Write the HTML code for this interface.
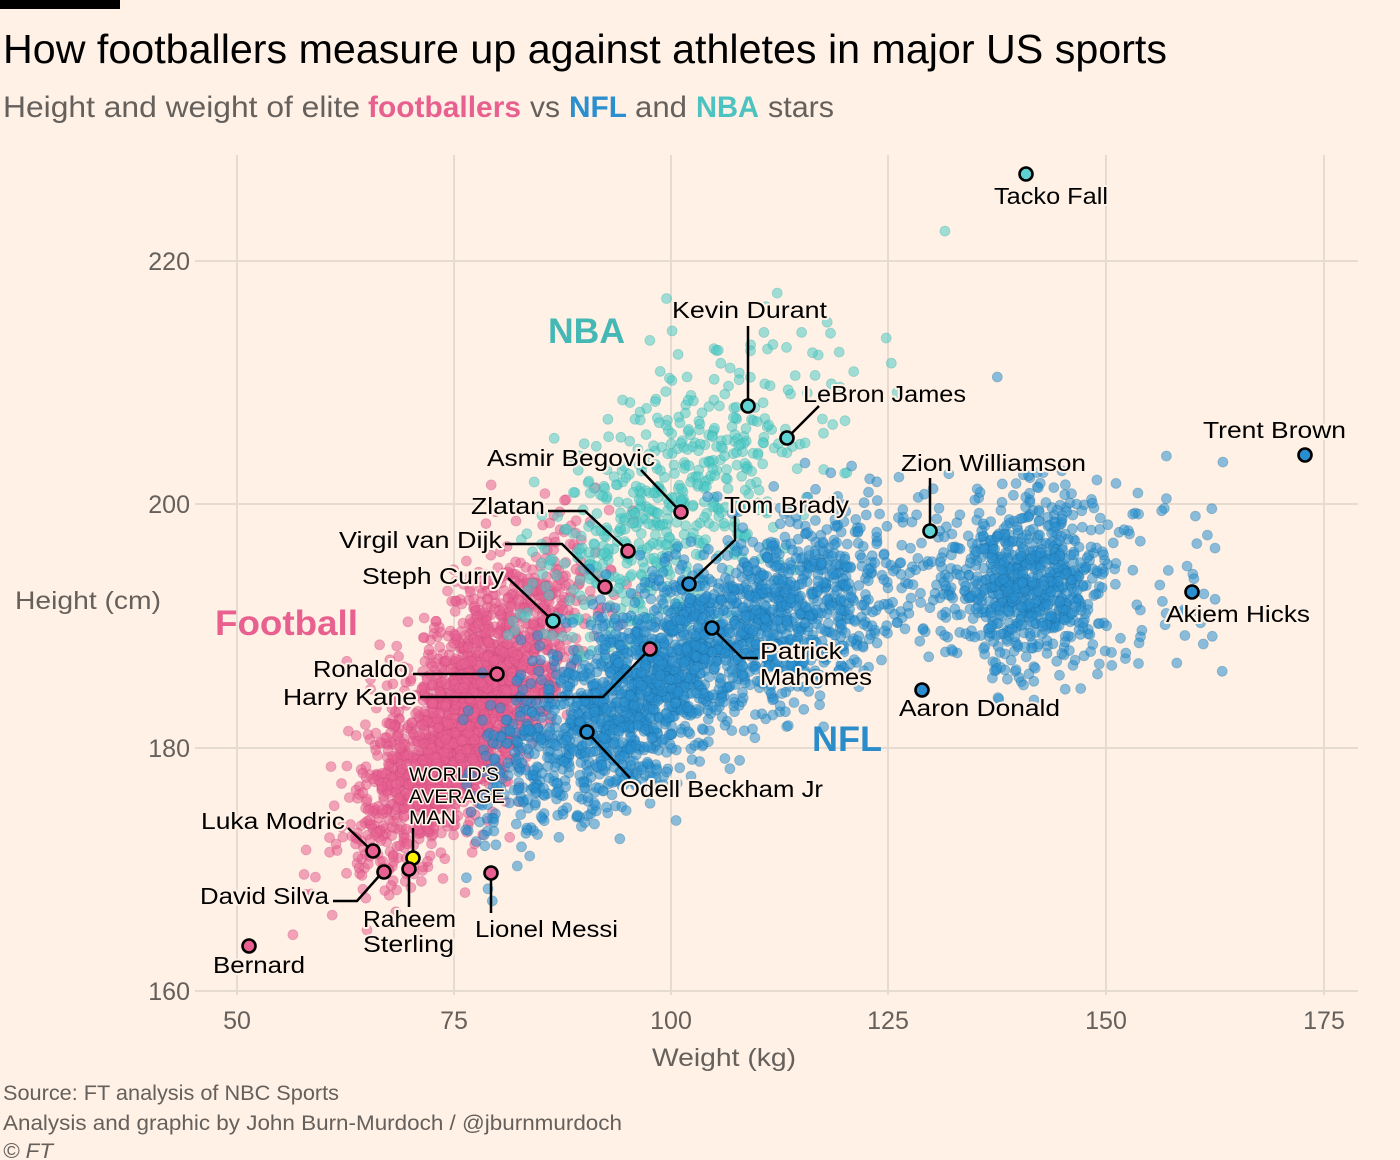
<!DOCTYPE html>
<html><head><meta charset="utf-8">
<style>
html,body{margin:0;padding:0;background:#fff1e5;}
svg{display:block;font-family:"Liberation Sans",sans-serif;}
.lab{font-size:23px;fill:#000;stroke:#fff1e5;stroke-width:4px;paint-order:stroke;stroke-linejoin:round;}
.sm{font-size:19px;fill:#000;stroke:#fff1e5;stroke-width:3px;paint-order:stroke;stroke-linejoin:round;}
.tick{font-size:25px;fill:#66605c;}
.ln{stroke:#000;stroke-width:2.5;fill:none;stroke-linejoin:miter;}
.hd{stroke:#000;stroke-width:2.6;}
.foot{font-size:21px;fill:#66605c;}
</style></head><body>
<svg id="s" width="1400" height="1160" viewBox="0 0 1400 1160" xmlns="http://www.w3.org/2000/svg">
<rect width="1400" height="1160" fill="#fff1e5"/>
<rect x="0" y="0" width="120" height="9" fill="#000"/>
<text x="3" y="63" font-size="41" fill="#000" textLength="1164" lengthAdjust="spacingAndGlyphs">How footballers measure up against athletes in major US sports</text>
<g font-size="30" fill="#66605c">
<text x="3" y="117" textLength="357" lengthAdjust="spacingAndGlyphs">Height and weight of elite</text>
<text x="368" y="117" textLength="153" lengthAdjust="spacingAndGlyphs" font-weight="bold" fill="#e8608f">footballers</text>
<text x="530" y="117" textLength="30" lengthAdjust="spacingAndGlyphs">vs</text>
<text x="569" y="117" textLength="58" lengthAdjust="spacingAndGlyphs" font-weight="bold" fill="#2b8ecf">NFL</text>
<text x="635" y="117" textLength="52" lengthAdjust="spacingAndGlyphs">and</text>
<text x="696" y="117" textLength="63" lengthAdjust="spacingAndGlyphs" font-weight="bold" fill="#4cc3c0">NBA</text>
<text x="768" y="117" textLength="66" lengthAdjust="spacingAndGlyphs">stars</text>
</g>
<!-- grid -->
<g stroke="#e6dbd1" stroke-width="2">
<line x1="237" y1="155" x2="237" y2="995"/>
<line x1="454" y1="155" x2="454" y2="995"/>
<line x1="671" y1="155" x2="671" y2="995"/>
<line x1="888" y1="155" x2="888" y2="995"/>
<line x1="1106" y1="155" x2="1106" y2="995"/>
<line x1="1324" y1="155" x2="1324" y2="995"/>
<line x1="195" y1="261" x2="1358" y2="261"/>
<line x1="195" y1="504" x2="1358" y2="504"/>
<line x1="195" y1="748" x2="1358" y2="748"/>
<line x1="195" y1="991" x2="1358" y2="991"/>
</g>
<g class="tick" text-anchor="end">
<text x="190" y="270">220</text>
<text x="190" y="513">200</text>
<text x="190" y="757">180</text>
<text x="190" y="1000">160</text>
</g>
<g class="tick" text-anchor="middle">
<text x="237" y="1029">50</text>
<text x="454" y="1029">75</text>
<text x="671" y="1029">100</text>
<text x="888" y="1029">125</text>
<text x="1106" y="1029">150</text>
<text x="1324" y="1029">175</text>
</g>
<text class="tick" x="15" y="609" textLength="146" lengthAdjust="spacingAndGlyphs">Height (cm)</text>
<text class="tick" x="652" y="1066" textLength="144" lengthAdjust="spacingAndGlyphs">Weight (kg)</text>

<g id="pink" fill="#e8608f" fill-opacity="0.55" stroke="#c9457a" stroke-opacity="0.35" stroke-width="0.8"></g>
<g id="teal" fill="#4fcac6" fill-opacity="0.55" stroke="#2fa6a3" stroke-opacity="0.35" stroke-width="0.8"></g>
<g id="blue" fill="#2a8fd0" fill-opacity="0.55" stroke="#16699f" stroke-opacity="0.35" stroke-width="0.8"></g>

<!-- group labels -->
<text x="215" y="635" font-size="35" font-weight="bold" fill="#e8608f" textLength="143" lengthAdjust="spacingAndGlyphs">Football</text>
<text x="548" y="343" font-size="35" font-weight="bold" fill="#45b8b6" textLength="77" lengthAdjust="spacingAndGlyphs">NBA</text>
<text x="812" y="751" font-size="35" font-weight="bold" fill="#2a8cc9" textLength="70" lengthAdjust="spacingAndGlyphs">NFL</text>

<!-- leader lines -->
<g class="ln">
<line x1="748" y1="326" x2="748" y2="400"/>
<line x1="819" y1="406" x2="791" y2="434"/>
<line x1="930" y1="478" x2="930" y2="525"/>
<line x1="641" y1="470" x2="677" y2="508"/>
<polyline points="735,516 735,540 693,580"/>
<polyline points="548,511 585,511 625,548"/>
<polyline points="505,544 562,544 602,584"/>
<line x1="508" y1="578" x2="549" y2="617"/>
<polyline points="712,628 742,658 758,658"/>
<line x1="413" y1="674" x2="491" y2="674"/>
<polyline points="420,697 603,697 646,653"/>
<line x1="587" y1="732" x2="630" y2="778"/>
<line x1="413" y1="828" x2="413" y2="851"/>
<line x1="348" y1="828" x2="369" y2="848"/>
<polyline points="333,901 357,901 380,875"/>
<line x1="409" y1="869" x2="409" y2="907"/>
<line x1="491" y1="873" x2="491" y2="913"/>
</g>
<!-- highlighted dots -->
<g class="hd">
<circle cx="1026" cy="174" r="6.5" fill="#5fd3d3"/>
<circle cx="748" cy="406" r="6.5" fill="#5fd3d3"/>
<circle cx="787" cy="438" r="6.5" fill="#5fd3d3"/>
<circle cx="1305" cy="455" r="6.5" fill="#2a8dd0"/>
<circle cx="930" cy="531" r="6.5" fill="#5fd3d3"/>
<circle cx="681" cy="512" r="6.5" fill="#e8608f"/>
<circle cx="689" cy="584" r="6.5" fill="#2a8dd0"/>
<circle cx="628" cy="551" r="6.5" fill="#e8608f"/>
<circle cx="605" cy="587" r="6.5" fill="#e8608f"/>
<circle cx="553" cy="621" r="6.5" fill="#5fd3d3"/>
<circle cx="1192" cy="592" r="6.5" fill="#2a8dd0"/>
<circle cx="712" cy="628" r="6.5" fill="#2a8dd0"/>
<circle cx="497" cy="674" r="6.5" fill="#e8608f"/>
<circle cx="650" cy="649" r="6.5" fill="#e8608f"/>
<circle cx="922" cy="690" r="6.5" fill="#2a8dd0"/>
<circle cx="587" cy="732" r="6.5" fill="#2a8dd0"/>
<circle cx="413" cy="858" r="6.5" fill="#fff200"/>
<circle cx="373" cy="851" r="6.5" fill="#e8608f"/>
<circle cx="384" cy="872" r="6.5" fill="#e8608f"/>
<circle cx="409" cy="869" r="6.5" fill="#e8608f"/>
<circle cx="491" cy="873" r="6.5" fill="#e8608f"/>
<circle cx="249" cy="946" r="6.5" fill="#e8608f"/>
</g>
<!-- labels -->
<g class="lab">
<text x="994" y="204" textLength="114" lengthAdjust="spacingAndGlyphs">Tacko Fall</text>
<text x="672" y="318" textLength="155" lengthAdjust="spacingAndGlyphs">Kevin Durant</text>
<text x="803" y="402" textLength="163" lengthAdjust="spacingAndGlyphs">LeBron James</text>
<text x="1203" y="438" textLength="143" lengthAdjust="spacingAndGlyphs">Trent Brown</text>
<text x="901" y="471" textLength="185" lengthAdjust="spacingAndGlyphs">Zion Williamson</text>
<text x="487" y="466" textLength="168" lengthAdjust="spacingAndGlyphs">Asmir Begovic</text>
<text x="724" y="513" textLength="125" lengthAdjust="spacingAndGlyphs">Tom Brady</text>
<text x="471" y="514" textLength="74" lengthAdjust="spacingAndGlyphs">Zlatan</text>
<text x="339" y="548" textLength="163" lengthAdjust="spacingAndGlyphs">Virgil van Dijk</text>
<text x="362" y="584" textLength="142" lengthAdjust="spacingAndGlyphs">Steph Curry</text>
<text x="1166" y="622" textLength="144" lengthAdjust="spacingAndGlyphs">Akiem Hicks</text>
<text x="760" y="659" textLength="82" lengthAdjust="spacingAndGlyphs">Patrick</text>
<text x="760" y="685" textLength="112" lengthAdjust="spacingAndGlyphs">Mahomes</text>
<text x="313" y="677" textLength="95" lengthAdjust="spacingAndGlyphs">Ronaldo</text>
<text x="283" y="705" textLength="134" lengthAdjust="spacingAndGlyphs">Harry Kane</text>
<text x="899" y="716" textLength="161" lengthAdjust="spacingAndGlyphs">Aaron Donald</text>
<text x="620" y="797" textLength="203" lengthAdjust="spacingAndGlyphs">Odell Beckham Jr</text>
<text x="201" y="829" textLength="144" lengthAdjust="spacingAndGlyphs">Luka Modric</text>
<text x="200" y="904" textLength="129" lengthAdjust="spacingAndGlyphs">David Silva</text>
<text x="363" y="927" textLength="93" lengthAdjust="spacingAndGlyphs">Raheem</text>
<text x="363" y="952" textLength="91" lengthAdjust="spacingAndGlyphs">Sterling</text>
<text x="475" y="937" textLength="143" lengthAdjust="spacingAndGlyphs">Lionel Messi</text>
<text x="213" y="973" textLength="92" lengthAdjust="spacingAndGlyphs">Bernard</text>
</g>
<g class="sm">
<text x="409" y="781" textLength="90" lengthAdjust="spacingAndGlyphs">WORLD’S</text>
<text x="409" y="803" textLength="96" lengthAdjust="spacingAndGlyphs">AVERAGE</text>
<text x="409" y="824" textLength="47" lengthAdjust="spacingAndGlyphs">MAN</text>
</g>
<!-- footer -->
<text class="foot" x="3" y="1100" textLength="336" lengthAdjust="spacingAndGlyphs">Source: FT analysis of NBC Sports</text>
<text class="foot" x="3" y="1130" textLength="619" lengthAdjust="spacingAndGlyphs">Analysis and graphic by John Burn-Murdoch / @jburnmurdoch</text>
<text class="foot" x="3" y="1158" font-style="italic" textLength="50" lengthAdjust="spacingAndGlyphs">© FT</text>
</svg>
<script>
(function(){
function mulberry32(a){return function(){a|=0;a=a+0x6D2B79F5|0;var t=Math.imul(a^a>>>15,1|a);t=t+Math.imul(t^t>>>7,61|t)^t;return((t^t>>>14)>>>0)/4294967296;};}
var R=mulberry32(20190715);
function N(){var u=R()||1e-9,v=R();return Math.sqrt(-2*Math.log(u))*Math.cos(2*Math.PI*v);}
function X(w){return 237+(w-50)*8.686;}
function Y(h){return 991-(h-160)*12.158;}
function make(arr){var s=[];for(var i=0;i<arr.length;i++){var p=arr[i];s.push('<circle cx="'+X(p[0]).toFixed(1)+'" cy="'+Y(p[1]).toFixed(1)+'" r="5"/>');}return s.join('');}
var pink=[],teal=[],blue=[],i,w,h;
// Football
for(i=0;i<2100;i++){w=76.5+6*N();h=182.8+0.7*(w-76.5)+4.3*N();if(w<56||h<162||h>202)continue;pink.push([w,h]);}
// NBA
for(i=0;i<600;i++){w=100+8.5*N();h=199.5+0.45*(w-100)+5.3*N();if(h>221||w<80||h<187)continue;teal.push([w,h]);}
teal.push([131.5,222.5]);
// NFL skill
for(i=0;i<1750;i++){w=97.5+10*N();h=185+0.42*(w-97.5)+4*N();if(w<76||h<166)continue;blue.push([w,h]);}
// NFL mid
for(i=0;i<550;i++){w=115+6.5*N();h=191+0.2*(w-115)+3.8*N();blue.push([w,h]);}
// NFL linemen
for(i=0;i<720;i++){w=141+4.6*N();h=193.5+3.3*N();blue.push([w,h]);}
// NFL sparse
for(i=0;i<120;i++){w=122+42*R();h=186+17*R();if(w>165)continue;blue.push([w,h]);}
blue.push([163.5,203.5],[157,200.5],[157,204],[154,197],[160.5,196.8]);
document.getElementById('pink').innerHTML=make(pink);
document.getElementById('teal').innerHTML=make(teal);
document.getElementById('blue').innerHTML=make(blue);
})();
</script>
</body></html>
